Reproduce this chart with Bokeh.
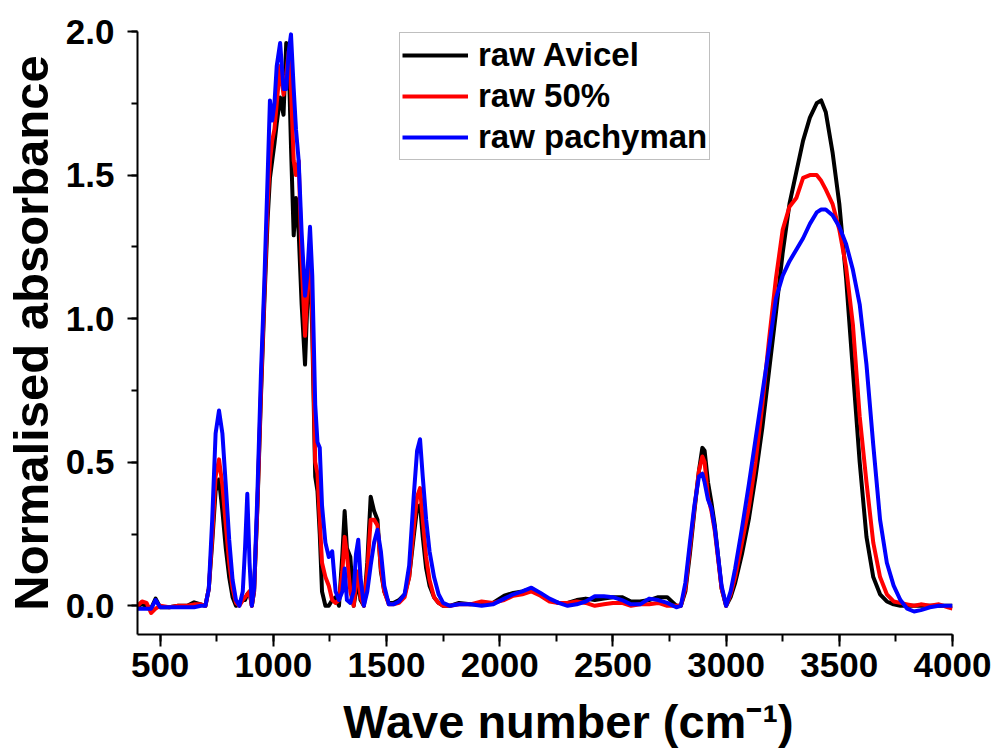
from bokeh.plotting import figure
from bokeh.models import SingleIntervalTicker, PrintfTickFormatter, NumeralTickFormatter, Range1d, ColumnDataSource
from bokeh.embed import file_html
from bokeh.resources import INLINE

wavenumber = [400, 420, 440, 460, 480, 500, 540, 580, 620, 650, 680, 700, 715, 730, 745, 760, 775, 790, 805, 820,
              835, 850, 865, 875, 885, 895, 905, 915, 930, 945, 960, 975, 985, 995, 1005, 1015, 1030, 1045, 1057, 1068,
              1078, 1090, 1100, 1112, 1125, 1140, 1150, 1162, 1172, 1185, 1195, 1205, 1215, 1230, 1245, 1260, 1275, 1290, 1305, 1315,
              1325, 1340, 1355, 1365, 1375, 1385, 1400, 1415, 1430, 1445, 1460, 1475, 1490, 1510, 1530, 1555, 1580, 1600, 1620, 1635,
              1648, 1660, 1675, 1690, 1710, 1730, 1750, 1780, 1820, 1870, 1920, 1970, 2020, 2060, 2100, 2140, 2180, 2220, 2260, 2300,
              2340, 2380, 2420, 2460, 2500, 2540, 2580, 2620, 2660, 2700, 2740, 2780, 2800, 2820, 2840, 2860, 2880, 2895, 2905, 2920,
              2935, 2950, 2965, 2980, 3000, 3020, 3040, 3070, 3100, 3130, 3160, 3190, 3220, 3250, 3280, 3310, 3340, 3370, 3400, 3420,
              3440, 3470, 3500, 3530, 3560, 3590, 3620, 3650, 3680, 3710, 3740, 3770, 3800, 3830, 3860, 3900, 3940, 3980, 4000]

raw_avicel = [0.0, 0.005, 0.0, -0.01, 0.025, -0.005, -0.005, 0.0, 0.0, 0.012, 0.005, 0.0, 0.06, 0.22, 0.40, 0.44, 0.33, 0.20, 0.10, 0.03,
              0.0, 0.005, 0.02, 0.02, 0.04, 0.05, 0.0, 0.05, 0.35, 0.72, 1.05, 1.35, 1.49, 1.55, 1.61, 1.68, 1.77, 1.71, 1.96, 1.90,
              1.60, 1.29, 1.42, 1.30, 1.05, 0.84, 1.05, 1.20, 0.95, 0.45, 0.40, 0.25, 0.05, 0.0, 0.0, 0.02, 0.03, 0.0, 0.18, 0.33,
              0.20, 0.17, 0.0, 0.05, 0.08, 0.02, 0.0, 0.15, 0.38, 0.33, 0.30, 0.12, 0.05, 0.01, 0.01, 0.02, 0.04, 0.10, 0.24, 0.34,
              0.35, 0.24, 0.13, 0.07, 0.03, 0.01, 0.0, 0.0, 0.01, 0.005, 0.005, 0.01, 0.035, 0.045, 0.05, 0.06, 0.04, 0.02, 0.01, 0.01,
              0.02, 0.025, 0.02, 0.025, 0.03, 0.03, 0.015, 0.015, 0.02, 0.03, 0.03, 0.0, 0.0, 0.05, 0.18, 0.33, 0.47, 0.55, 0.54, 0.43,
              0.36, 0.28, 0.17, 0.06, 0.0, 0.03, 0.08, 0.18, 0.30, 0.45, 0.62, 0.82, 1.02, 1.23, 1.40, 1.51, 1.62, 1.70, 1.75, 1.76,
              1.72, 1.58, 1.40, 1.14, 0.82, 0.50, 0.24, 0.10, 0.04, 0.015, 0.005, 0.0, 0.0, 0.0, 0.0, 0.0, 0.0, 0.0, 0.0]

raw_50 = [0.0, 0.015, 0.01, -0.025, -0.01, 0.0, -0.005, 0.0, 0.0, 0.005, 0.005, 0.0, 0.06, 0.24, 0.45, 0.51, 0.42, 0.28, 0.15, 0.06,
          0.01, 0.0, 0.02, 0.03, 0.04, 0.05, 0.0, 0.05, 0.36, 0.74, 1.08, 1.40, 1.55, 1.62, 1.66, 1.75, 1.88, 1.78, 1.85, 1.93,
          1.80, 1.55, 1.50, 1.55, 1.20, 0.94, 1.10, 1.26, 1.00, 0.50, 0.46, 0.30, 0.15, 0.10, 0.07, 0.02, 0.01, 0.02, 0.12, 0.24,
          0.18, 0.05, 0.0, 0.08, 0.12, 0.03, 0.0, 0.12, 0.30, 0.30, 0.28, 0.13, 0.05, 0.005, 0.005, 0.01, 0.03, 0.10, 0.27, 0.38,
          0.41, 0.30, 0.17, 0.09, 0.03, 0.01, 0.0, 0.0, 0.005, 0.005, 0.015, 0.01, 0.02, 0.035, 0.04, 0.05, 0.035, 0.015, 0.01, 0.01,
          0.015, 0.01, 0.0, 0.005, 0.01, 0.01, 0.0, 0.005, 0.005, 0.01, 0.0, 0.0, 0.0, 0.06, 0.20, 0.34, 0.47, 0.52, 0.50, 0.38,
          0.33, 0.26, 0.16, 0.06, 0.0, 0.04, 0.10, 0.22, 0.34, 0.50, 0.70, 0.93, 1.14, 1.31, 1.39, 1.42, 1.49, 1.50, 1.50, 1.48,
          1.45, 1.40, 1.31, 1.18, 0.98, 0.66, 0.43, 0.22, 0.10, 0.04, 0.015, 0.01, 0.005, 0.0, 0.005, 0.0, 0.005, -0.005, -0.01]

raw_pachyman = [-0.01, -0.01, -0.01, -0.01, 0.02, -0.005, -0.005, -0.005, -0.005, -0.005, 0.0, 0.0, 0.06, 0.30, 0.60, 0.68, 0.60, 0.42, 0.23, 0.09,
                0.02, 0.0, 0.05, 0.20, 0.39, 0.15, 0.0, 0.06, 0.40, 0.80, 1.12, 1.50, 1.76, 1.69, 1.75, 1.88, 1.96, 1.80, 1.80, 1.93,
                1.99, 1.80, 1.66, 1.55, 1.30, 1.08, 1.15, 1.32, 1.15, 0.70, 0.57, 0.55, 0.35, 0.22, 0.17, 0.19, 0.05, 0.02, 0.05, 0.13,
                0.02, 0.01, 0.05, 0.18, 0.23, 0.10, 0.0, 0.05, 0.14, 0.22, 0.265, 0.19, 0.07, 0.005, 0.005, 0.015, 0.04, 0.14, 0.38, 0.54,
                0.58, 0.45, 0.30, 0.19, 0.10, 0.04, 0.01, 0.0, 0.005, 0.005, 0.0, 0.005, 0.025, 0.04, 0.05, 0.063, 0.045, 0.025, 0.01, 0.0,
                0.005, 0.015, 0.033, 0.033, 0.03, 0.02, 0.005, 0.005, 0.025, 0.02, 0.01, -0.005, 0.0, 0.08, 0.22, 0.35, 0.45, 0.46, 0.43, 0.37,
                0.34, 0.27, 0.17, 0.07, 0.0, 0.05, 0.13, 0.27, 0.42, 0.58, 0.74, 0.90, 1.07, 1.15, 1.20, 1.24, 1.28, 1.33, 1.37, 1.38,
                1.38, 1.36, 1.32, 1.26, 1.17, 1.05, 0.84, 0.56, 0.30, 0.15, 0.07, 0.02, -0.01, -0.02, -0.015, -0.005, 0.0, 0.0, 0.0]

series_names = ["raw Avicel", "raw 50%", "raw pachyman"]
series_colors = ["#000000", "#ff0000", "#0000ff"]

FONT = "Liberation Sans"

p = figure(width=997, height=755, output_backend="svg", toolbar_location=None,
           x_range=Range1d(400, 4000), y_range=Range1d(-0.1, 2.0),
           min_border_left=135, min_border_right=45, min_border_top=31, min_border_bottom=121)
p.outline_line_color = None
p.xgrid.visible = False
p.ygrid.visible = False
p.background_fill_color = "white"
p.border_fill_color = "white"

src = ColumnDataSource(dict(x=wavenumber, a=raw_avicel, b=raw_50, c=raw_pachyman))
for col, name, color in zip(["a", "b", "c"], series_names, series_colors):
    p.line("x", col, source=src, line_color=color, line_width=4, line_join="round", legend_label=name)

for ax in (p.xaxis[0], p.yaxis[0]):
    ax.axis_line_width = 2
    ax.axis_line_color = "black"
    ax.major_tick_line_width = 2
    ax.minor_tick_line_width = 2
    ax.major_tick_line_color = "black"
    ax.minor_tick_line_color = "black"
    ax.major_tick_in = 0
    ax.minor_tick_in = 0
    ax.major_label_text_font = FONT
    ax.major_label_text_font_style = "bold"
    ax.major_label_text_color = "black"
    ax.major_label_text_font_size = "35px"
    ax.axis_label_text_font = FONT
    ax.axis_label_text_font_style = "bold"
    ax.axis_label_text_color = "black"

p.xaxis.ticker = SingleIntervalTicker(interval=500, num_minor_ticks=2)
p.xaxis.formatter = NumeralTickFormatter(format="0")
p.xaxis.major_tick_out = 12
p.xaxis.minor_tick_out = 7
p.xaxis.major_label_standoff = 6
p.xaxis.axis_label = "\u2003Wave number (cm\u207b\u00b9)"
p.xaxis.axis_label_text_font_size = "47px"
p.xaxis.axis_label_standoff = 15

p.yaxis.ticker = SingleIntervalTicker(interval=0.5, num_minor_ticks=2)
p.yaxis.formatter = PrintfTickFormatter(format="%.1f")
p.yaxis.major_tick_out = 10
p.yaxis.minor_tick_out = 6
p.yaxis.major_label_standoff = 13
p.yaxis.axis_label = "Normalised absorbance"
p.yaxis.axis_label_text_font_size = "49px"
p.yaxis.axis_label_standoff = 5

leg = p.legend[0]
leg.location = (262, 474)
leg.label_text_font = FONT
leg.label_text_font_style = "bold"
leg.label_text_font_size = "33px"
leg.label_text_color = "black"
leg.glyph_width = 66
leg.glyph_height = 40
leg.label_height = 40
leg.label_standoff = 10
leg.padding = 2
leg.spacing = 1
leg.margin = 0
leg.border_line_color = "#808080"
leg.border_line_width = 1
leg.background_fill_alpha = 1.0
leg.click_policy = "none"

open("out.html", "w").write(file_html(p, INLINE))
